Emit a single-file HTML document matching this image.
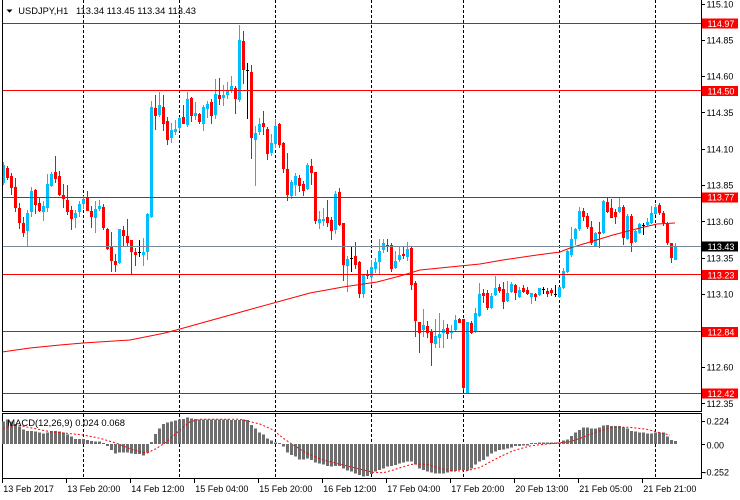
<!DOCTYPE html>
<html><head><meta charset="utf-8"><style>
html,body{margin:0;padding:0;background:#fff;width:740px;height:500px;overflow:hidden}
svg{display:block}
text{font-family:"Liberation Sans",sans-serif;font-size:9px;fill:#000}
</style></head><body>
<svg width="740" height="500" viewBox="0 0 740 500" xmlns="http://www.w3.org/2000/svg">
<rect width="740" height="500" fill="#fff"/>
<!-- separators -->
<g stroke="#000" stroke-width="1" stroke-dasharray="3,2" shape-rendering="crispEdges">
<path d="M83.5 0V411M179.5 0V411M275.5 0V411M371.5 0V411M463.5 0V411M559.5 0V411M655.5 0V411"/>
<path d="M83.5 414V478M179.5 414V478M275.5 414V478M371.5 414V478M463.5 414V478M559.5 414V478M655.5 414V478"/>
</g>
<!-- candles -->
<g shape-rendering="crispEdges">
<path fill="#00bfff" d="M2 165h3V183h-3ZM3 162h1V185h-1ZM26 213h3V231h-3ZM27 210h1V246h-1ZM30 191h3V212h-3ZM31 187h1V217h-1ZM42 206h3V212h-3ZM43 201h1V221h-1ZM46 184h3V208h-3ZM47 174h1V212h-1ZM50 174h3V186h-3ZM51 172h1V187h-1ZM74 213h3V218h-3ZM75 210h1V228h-1ZM78 204h3V212h-3ZM79 201h1V217h-1ZM82 199h3V204h-3ZM83 196h1V209h-1ZM94 209h3V218h-3ZM95 201h1V233h-1ZM98 206h3V209h-3ZM99 200h1V211h-1ZM118 229h3V263h-3ZM119 229h1V264h-1ZM142 252h3V255h-3ZM143 238h1V266h-1ZM146 214h3V252h-3ZM147 213h1V260h-1ZM150 107h3V217h-3ZM151 101h1V218h-1ZM158 105h3V115h-3ZM159 92h1V117h-1ZM170 130h3V138h-3ZM171 123h1V143h-1ZM174 129h3V132h-3ZM175 120h1V135h-1ZM178 118h3V128h-3ZM179 117h1V131h-1ZM186 99h3V125h-3ZM187 92h1V127h-1ZM194 113h3V116h-3ZM195 102h1V120h-1ZM202 107h3V124h-3ZM203 105h1V131h-1ZM206 104h3V109h-3ZM207 101h1V118h-1ZM214 94h3V115h-3ZM215 79h1V119h-1ZM222 95h3V98h-3ZM223 85h1V106h-1ZM226 91h3V95h-3ZM227 82h1V99h-1ZM230 86h3V91h-3ZM231 76h1V93h-1ZM238 40h3V100h-3ZM239 25h1V102h-1ZM254 133h3V140h-3ZM255 126h1V186h-1ZM258 124h3V132h-3ZM259 118h1V135h-1ZM270 143h3V153h-3ZM271 134h1V156h-1ZM274 126h3V144h-3ZM275 119h1V148h-1ZM290 182h3V196h-3ZM291 180h1V199h-1ZM294 176h3V185h-3ZM295 173h1V196h-1ZM306 165h3V189h-3ZM307 163h1V190h-1ZM318 219h3V223h-3ZM319 211h1V229h-1ZM322 219h3V221h-3ZM323 208h1V226h-1ZM334 194h3V230h-3ZM335 191h1V234h-1ZM346 259h3V266h-3ZM347 256h1V292h-1ZM362 275h3V294h-3ZM363 274h1V298h-1ZM370 267h3V277h-3ZM371 260h1V285h-1ZM374 262h3V269h-3ZM375 258h1V273h-1ZM378 251h3V262h-3ZM379 239h1V275h-1ZM382 243h3V250h-3ZM383 239h1V253h-1ZM394 261h3V268h-3ZM395 251h1V269h-1ZM398 255h3V260h-3ZM399 246h1V262h-1ZM406 249h3V257h-3ZM407 242h1V261h-1ZM422 325h3V330h-3ZM423 309h1V337h-1ZM434 336h3V344h-3ZM435 319h1V348h-1ZM438 334h3V338h-3ZM439 313h1V348h-1ZM442 329h3V333h-3ZM443 320h1V348h-1ZM450 331h3V333h-3ZM451 325h1V339h-1ZM454 320h3V330h-3ZM455 315h1V331h-1ZM466 322h3V393h-3ZM467 322h1V393h-1ZM474 313h3V332h-3ZM475 308h1V333h-1ZM478 294h3V316h-3ZM479 283h1V317h-1ZM490 296h3V308h-3ZM491 293h1V309h-1ZM494 288h3V295h-3ZM495 276h1V296h-1ZM506 293h3V301h-3ZM507 281h1V302h-1ZM510 284h3V292h-3ZM511 282h1V293h-1ZM518 290h3V297h-3ZM519 287h1V298h-1ZM530 293h3V297h-3ZM531 293h1V304h-1ZM538 288h3V295h-3ZM539 288h1V296h-1ZM558 287h3V297h-3ZM559 287h1V298h-1ZM562 271h3V288h-3ZM563 268h1V289h-1ZM566 251h3V272h-3ZM567 250h1V273h-1ZM570 239h3V255h-3ZM571 227h1V257h-1ZM574 229h3V239h-3ZM575 228h1V245h-1ZM578 211h3V229h-3ZM579 207h1V231h-1ZM594 233h3V246h-3ZM595 232h1V247h-1ZM602 201h3V233h-3ZM603 200h1V234h-1ZM618 207h3V212h-3ZM619 197h1V213h-1ZM626 216h3V239h-3ZM627 214h1V240h-1ZM634 231h3V242h-3ZM635 230h1V243h-1ZM638 224h3V233h-3ZM639 223h1V234h-1ZM646 222h3V225h-3ZM647 218h1V226h-1ZM650 213h3V223h-3ZM651 206h1V224h-1ZM654 207h3V214h-3ZM655 204h1V215h-1ZM674 246h3V260h-3ZM675 243h1V260h-1Z"/>
<path fill="#ff0000" d="M6 168h3V178h-3ZM7 166h1V180h-1ZM10 176h3V188h-3ZM11 173h1V195h-1ZM14 187h3V208h-3ZM15 178h1V212h-1ZM18 208h3V223h-3ZM19 203h1V229h-1ZM22 223h3V233h-3ZM23 217h1V237h-1ZM34 190h3V205h-3ZM35 189h1V214h-1ZM38 203h3V211h-3ZM39 198h1V212h-1ZM54 172h3V179h-3ZM55 156h1V183h-1ZM58 176h3V195h-3ZM59 171h1V196h-1ZM62 195h3V199h-3ZM63 184h1V208h-1ZM66 200h3V212h-3ZM67 185h1V215h-1ZM70 210h3V219h-3ZM71 206h1V230h-1ZM86 198h3V211h-3ZM87 191h1V211h-1ZM90 211h3V217h-3ZM91 206h1V228h-1ZM102 207h3V228h-3ZM103 204h1V230h-1ZM106 229h3V249h-3ZM107 228h1V250h-1ZM110 246h3V261h-3ZM111 232h1V272h-1ZM114 261h3V265h-3ZM115 254h1V272h-1ZM122 230h3V236h-3ZM123 226h1V247h-1ZM126 236h3V243h-3ZM127 219h1V247h-1ZM130 240h3V252h-3ZM131 240h1V275h-1ZM134 252h3V255h-3ZM135 248h1V266h-1ZM154 108h3V116h-3ZM155 95h1V130h-1ZM162 107h3V124h-3ZM163 95h1V131h-1ZM166 121h3V140h-3ZM167 117h1V145h-1ZM182 117h3V124h-3ZM183 105h1V124h-1ZM190 98h3V116h-3ZM191 97h1V122h-1ZM198 114h3V122h-3ZM199 113h1V124h-1ZM210 102h3V116h-3ZM211 99h1V124h-1ZM218 95h3V99h-3ZM219 78h1V105h-1ZM234 88h3V99h-3ZM235 86h1V114h-1ZM242 41h3V70h-3ZM243 31h1V84h-1ZM250 72h3V138h-3ZM251 65h1V159h-1ZM262 123h3V127h-3ZM263 111h1V135h-1ZM266 129h3V154h-3ZM267 127h1V160h-1ZM278 124h3V145h-3ZM279 123h1V148h-1ZM282 143h3V169h-3ZM283 142h1V173h-1ZM286 169h3V195h-3ZM287 153h1V201h-1ZM298 178h3V186h-3ZM299 175h1V192h-1ZM302 184h3V191h-3ZM303 181h1V196h-1ZM310 166h3V173h-3ZM311 159h1V185h-1ZM314 172h3V221h-3ZM315 172h1V224h-1ZM326 217h3V223h-3ZM327 200h1V227h-1ZM330 220h3V231h-3ZM331 217h1V240h-1ZM338 192h3V225h-3ZM339 188h1V226h-1ZM342 223h3V265h-3ZM343 223h1V281h-1ZM354 256h3V265h-3ZM355 242h1V269h-1ZM358 262h3V294h-3ZM359 261h1V298h-1ZM366 274h3V276h-3ZM367 270h1V279h-1ZM386 245h3V247h-3ZM387 239h1V252h-1ZM390 245h3V269h-3ZM391 243h1V272h-1ZM402 254h3V256h-3ZM403 247h1V259h-1ZM410 248h3V285h-3ZM411 247h1V290h-1ZM414 283h3V321h-3ZM415 281h1V337h-1ZM418 322h3V333h-3ZM419 322h1V353h-1ZM426 326h3V333h-3ZM427 321h1V338h-1ZM430 332h3V343h-3ZM431 329h1V366h-1ZM446 328h3V334h-3ZM447 324h1V339h-1ZM458 319h3V323h-3ZM459 318h1V323h-1ZM462 319h3V388h-3ZM463 319h1V390h-1ZM470 323h3V333h-3ZM471 321h1V334h-1ZM482 293h3V296h-3ZM483 289h1V303h-1ZM486 293h3V308h-3ZM487 290h1V310h-1ZM498 287h3V291h-3ZM499 284h1V293h-1ZM502 289h3V302h-3ZM503 282h1V309h-1ZM514 285h3V293h-3ZM515 284h1V300h-1ZM522 288h3V292h-3ZM523 285h1V293h-1ZM526 290h3V294h-3ZM527 287h1V295h-1ZM534 294h3V297h-3ZM535 293h1V301h-1ZM546 291h3V294h-3ZM547 288h1V297h-1ZM550 290h3V293h-3ZM551 288h1V296h-1ZM582 211h3V217h-3ZM583 208h1V221h-1ZM586 216h3V227h-3ZM587 213h1V229h-1ZM590 227h3V243h-3ZM591 221h1V245h-1ZM598 232h3V234h-3ZM599 222h1V248h-1ZM606 202h3V212h-3ZM607 197h1V213h-1ZM610 208h3V218h-3ZM611 199h1V218h-1ZM614 212h3V217h-3ZM615 209h1V224h-1ZM622 207h3V238h-3ZM623 205h1V245h-1ZM630 216h3V243h-3ZM631 214h1V252h-1ZM658 205h3V213h-3ZM659 203h1V215h-1ZM662 213h3V223h-3ZM663 211h1V226h-1ZM666 224h3V243h-3ZM667 222h1V245h-1ZM670 243h3V258h-3ZM671 243h1V263h-1Z"/>
<path fill="#000" d="M138 252h3V253h-3ZM139 240h1V257h-1ZM246 70h3V71h-3ZM247 63h1V119h-1ZM350 258h3V259h-3ZM351 246h1V272h-1ZM542 289h3V290h-3ZM543 287h1V294h-1ZM554 294h3V295h-3ZM555 285h1V297h-1ZM642 225h3V226h-3ZM643 223h1V235h-1Z"/>
</g>
<!-- moving average -->
<polyline fill="none" stroke="#ff0000" stroke-width="1" points="2,352 30,348 60,345 83,343 130,340 145,337 165,333 180,329 250,309.5 310,293 343,287 377,282 400,276 420,270 450,267 480,264 503,260 537,255 560,252 570,248 590,242 613,235 640,228 657,224 675,223"/>
<!-- horizontal lines -->
<g stroke-width="1" shape-rendering="crispEdges">
<path stroke="#ff0000" d="M2 23.5H701M2 90.5H701M2 197.5H701M2 274.5H701M2 331.5H701M2 393.5H701"/>
<path stroke="#778899" d="M2 246.5H701"/>
</g>
<!-- frame -->
<g stroke="#000" stroke-width="1" shape-rendering="crispEdges" fill="none">
<path d="M2.5 0V411.5H701.5V0"/>
<path d="M2.5 413.5H701.5V478.5H2.5Z"/>
<path d="M701 4.5h4M701 40.5h4M701 76.5h4M701 112.5h4M701 149.5h4M701 185.5h4M701 221.5h4M701 258.5h4M701 294.5h4M701 330.5h4M701 367.5h4M701 403.5h4"/>
<path d="M701 421.5h4M701 444.5h4M701 472.5h4"/>
<path d="M2.5 479v4M66.5 479v4M130.5 479v4M194.5 479v4M258.5 479v4M322.5 479v4M386.5 479v4M450.5 479v4M514.5 479v4M578.5 479v4M642.5 479v4"/>
</g>
<!-- MACD histogram -->
<path fill="#6e6e6e" shape-rendering="crispEdges" d="M2 421.7h3V444h-3ZM6 419.3h3V444h-3ZM10 421.7h3V444h-3ZM14 424h3V444h-3ZM18 426.7h3V444h-3ZM22 429.3h3V444h-3ZM26 431h3V444h-3ZM30 431h3V444h-3ZM34 431.7h3V444h-3ZM38 432.7h3V444h-3ZM42 433.3h3V444h-3ZM46 432.3h3V444h-3ZM50 431h3V444h-3ZM54 431h3V444h-3ZM58 431.7h3V444h-3ZM62 432.7h3V444h-3ZM66 434.3h3V444h-3ZM70 436.7h3V444h-3ZM74 439h3V444h-3ZM78 439h3V444h-3ZM82 439h3V444h-3ZM86 440h3V444h-3ZM90 441h3V444h-3ZM94 441.7h3V444h-3ZM98 441.7h3V444h-3ZM102 443h3V444h-3ZM106 446h3V444h-3ZM110 450h3V444h-3ZM114 453.3h3V444h-3ZM118 452.7h3V444h-3ZM122 452.7h3V444h-3ZM126 452.7h3V444h-3ZM130 453.3h3V444h-3ZM134 454h3V444h-3ZM138 454h3V444h-3ZM142 455.7h3V444h-3ZM146 452.7h3V444h-3ZM150 442h3V444h-3ZM154 434h3V444h-3ZM158 428.3h3V444h-3ZM162 424h3V444h-3ZM166 422.7h3V444h-3ZM170 421.7h3V444h-3ZM174 420.7h3V444h-3ZM178 419.3h3V444h-3ZM182 419h3V444h-3ZM186 417.3h3V444h-3ZM190 418.3h3V444h-3ZM194 419h3V444h-3ZM198 419.3h3V444h-3ZM202 419.3h3V444h-3ZM206 419.3h3V444h-3ZM210 419.3h3V444h-3ZM214 419.3h3V444h-3ZM218 419.3h3V444h-3ZM222 419.3h3V444h-3ZM226 419.3h3V444h-3ZM230 420h3V444h-3ZM234 420h3V444h-3ZM238 420h3V444h-3ZM242 419.3h3V444h-3ZM246 420h3V444h-3ZM250 425h3V444h-3ZM254 428.3h3V444h-3ZM258 432.3h3V444h-3ZM262 434.3h3V444h-3ZM266 438.3h3V444h-3ZM270 440.7h3V444h-3ZM274 442.3h3V444h-3ZM278 443h3V444h-3ZM282 446.7h3V444h-3ZM286 452.7h3V444h-3ZM290 455h3V444h-3ZM294 456.7h3V444h-3ZM298 459.3h3V444h-3ZM302 459.3h3V444h-3ZM306 458.3h3V444h-3ZM310 460h3V444h-3ZM314 462.7h3V444h-3ZM318 463.3h3V444h-3ZM322 464.3h3V444h-3ZM326 466h3V444h-3ZM330 466.7h3V444h-3ZM334 466h3V444h-3ZM338 466h3V444h-3ZM342 468.3h3V444h-3ZM346 470.7h3V444h-3ZM350 471.7h3V444h-3ZM354 473.3h3V444h-3ZM358 475h3V444h-3ZM362 476.7h3V444h-3ZM366 476h3V444h-3ZM370 474h3V444h-3ZM374 471.7h3V444h-3ZM378 470h3V444h-3ZM382 468.3h3V444h-3ZM386 466.7h3V444h-3ZM390 466h3V444h-3ZM394 465h3V444h-3ZM398 463.3h3V444h-3ZM402 462.7h3V444h-3ZM406 461.7h3V444h-3ZM410 461.7h3V444h-3ZM414 464.3h3V444h-3ZM418 468.3h3V444h-3ZM422 470h3V444h-3ZM426 471.7h3V444h-3ZM430 472.7h3V444h-3ZM434 473.3h3V444h-3ZM438 473.3h3V444h-3ZM442 473.3h3V444h-3ZM446 472.7h3V444h-3ZM450 471.7h3V444h-3ZM454 471h3V444h-3ZM458 470h3V444h-3ZM462 470h3V444h-3ZM466 470.7h3V444h-3ZM470 468.3h3V444h-3ZM474 464.3h3V444h-3ZM478 461.7h3V444h-3ZM482 460h3V444h-3ZM486 456.7h3V444h-3ZM490 453.3h3V444h-3ZM494 451.7h3V444h-3ZM498 450h3V444h-3ZM502 449.3h3V444h-3ZM506 448.3h3V444h-3ZM510 447.3h3V444h-3ZM514 446h3V444h-3ZM518 446h3V444h-3ZM522 445.3h3V444h-3ZM526 445.3h3V444h-3ZM530 443h3V444h-3ZM534 443h3V444h-3ZM538 442.7h3V444h-3ZM542 442.7h3V444h-3ZM546 442.7h3V444h-3ZM550 442.7h3V444h-3ZM554 442.7h3V444h-3ZM558 442.7h3V444h-3ZM562 440.7h3V444h-3ZM566 439.3h3V444h-3ZM570 436h3V444h-3ZM574 432.7h3V444h-3ZM578 430h3V444h-3ZM582 427.3h3V444h-3ZM586 427.3h3V444h-3ZM590 428.3h3V444h-3ZM594 428.3h3V444h-3ZM598 427.3h3V444h-3ZM602 425.3h3V444h-3ZM606 425h3V444h-3ZM610 426h3V444h-3ZM614 426h3V444h-3ZM618 426h3V444h-3ZM622 427.3h3V444h-3ZM626 428.3h3V444h-3ZM630 431h3V444h-3ZM634 431.7h3V444h-3ZM638 432.7h3V444h-3ZM642 432.7h3V444h-3ZM646 433.3h3V444h-3ZM650 433.3h3V444h-3ZM654 432.7h3V444h-3ZM658 432.7h3V444h-3ZM662 432.7h3V444h-3ZM666 436.7h3V444h-3ZM670 440h3V444h-3ZM674 441h3V444h-3Z"/>
<!-- signal line -->
<polyline fill="none" stroke="#ff0000" stroke-width="1" stroke-dasharray="2,2" points="3,428.3 16.7,425 33.3,428.3 50,431.7 66.7,433.3 83.3,435 100,438.3 116.7,443.3 133.3,450 146.7,453.3 156.7,448.3 166.7,441.7 180,430 190,421.7 200,419.3 240,419.3 250,421.7 260,424 273.3,430 283.3,438.3 293.3,445 306.7,453.3 323.3,460 340,464.3 356.7,468.3 373.3,472.3 383.3,472.7 393.3,470 403.3,466.7 413.3,464 426.7,464.3 440,468.3 453.3,471 466.7,470.7 480,467.5 490,462 500,456.7 513.3,450.7 530,446 546.7,444 560,442.7 570,441.7 580,438.3 596.7,431.7 613.3,427.3 630,427.3 646.7,429.3 660,432.7 670,435"/>
<!-- header texts -->
<polygon points="6.5,9.5 12.5,9.5 9.5,12.7" fill="#000"/>
<text x="18.3" y="14" textLength="50" lengthAdjust="spacingAndGlyphs">USDJPY,H1</text>
<text x="76" y="14" textLength="120" lengthAdjust="spacingAndGlyphs">113.34 113.45 113.34 113.43</text>
<text x="7.3" y="426" textLength="117.7" lengthAdjust="spacingAndGlyphs">MACD(12,26,9) 0.024 0.068</text>
<!-- price axis labels -->
<g>
<text x="706.5" y="7.5">115.10</text>
<text x="706.5" y="43.5">114.85</text>
<text x="706.5" y="79.7">114.60</text>
<text x="706.5" y="116">114.35</text>
<text x="706.5" y="152.3">114.10</text>
<text x="706.5" y="188.7">113.85</text>
<text x="706.5" y="225">113.60</text>
<text x="706.5" y="261.5">113.35</text>
<text x="706.5" y="297.7">113.10</text>
<text x="706.5" y="370.5">112.60</text>
<text x="706.5" y="406.8">112.35</text>
<text x="706.5" y="424.5">0.224</text>
<text x="706.5" y="448.3">0.00</text>
<text x="703.5" y="475.7">-0.252</text>
</g>
<!-- line labels -->
<g shape-rendering="crispEdges">
<rect x="702" y="18.5" width="36" height="10" fill="#ff0000"/>
<rect x="702" y="86" width="36" height="10" fill="#ff0000"/>
<rect x="702" y="192.3" width="36" height="10" fill="#ff0000"/>
<rect x="702" y="270" width="36" height="10" fill="#ff0000"/>
<rect x="702" y="327" width="36" height="10" fill="#ff0000"/>
<rect x="702" y="388.7" width="36" height="10" fill="#ff0000"/>
<rect x="702" y="241.5" width="36" height="10" fill="#000"/>
</g>
<g style="fill:#fff">
<text x="707.5" y="27" style="fill:#fff">114.97</text>
<text x="707.5" y="94.3" style="fill:#fff">114.50</text>
<text x="707.5" y="200.7" style="fill:#fff">113.77</text>
<text x="707.5" y="278.3" style="fill:#fff">113.23</text>
<text x="707.5" y="335.5" style="fill:#fff">112.84</text>
<text x="707.5" y="397" style="fill:#fff">112.42</text>
<text x="707.5" y="250" style="fill:#fff">113.43</text>
</g>
<!-- time axis labels -->
<g>
<text x="3.3" y="492">13 Feb 2017</text>
<text x="67.3" y="492">13 Feb 20:00</text>
<text x="131.3" y="492">14 Feb 12:00</text>
<text x="195.3" y="492">15 Feb 04:00</text>
<text x="259.3" y="492">15 Feb 20:00</text>
<text x="323.3" y="492">16 Feb 12:00</text>
<text x="387.3" y="492">17 Feb 04:00</text>
<text x="451.3" y="492">17 Feb 20:00</text>
<text x="515.3" y="492">20 Feb 13:00</text>
<text x="579.3" y="492">21 Feb 05:00</text>
<text x="643.3" y="492">21 Feb 21:00</text>
</g>
</svg>
</body></html>
